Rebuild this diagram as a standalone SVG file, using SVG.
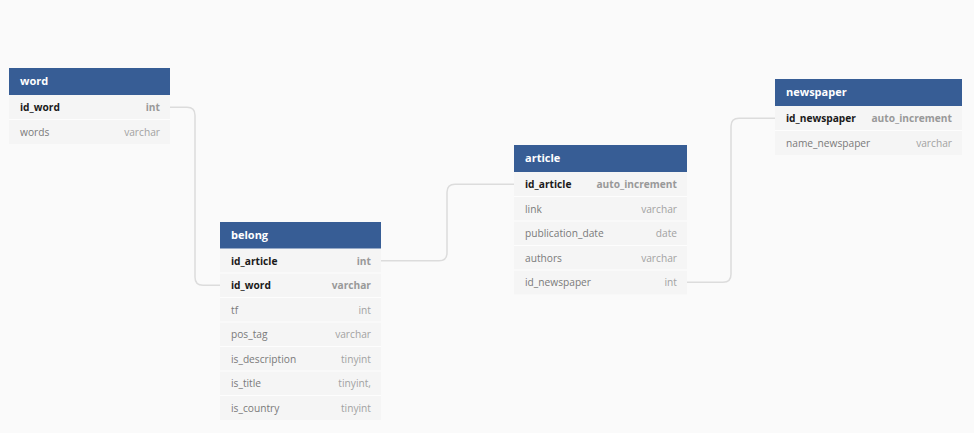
<svg xmlns="http://www.w3.org/2000/svg" width="974" height="433" viewBox="0 0 974 433">
<style>
.bg{fill:#fafafa}
.hd{fill:#375d95}
.row{fill:#f5f5f5}
.sep{stroke:#fdfdfd;stroke-width:1}
.ht{font-family:"Open Sans","Noto Sans",sans-serif;font-size:11px;font-weight:700;fill:#ffffff}
.n{font-family:"Open Sans","Noto Sans",sans-serif;font-size:10.2px;fill:#7a7a7a}
.k{font-weight:700;fill:#1a1a1a}
.t{font-family:"Open Sans","Noto Sans",sans-serif;font-size:10.2px;fill:#a2a2a2;text-anchor:end}
.tk{font-weight:700;fill:#999999}
.c{fill:none;stroke:#dcdcdc;stroke-width:1.5}
</style>
<rect class="bg" x="0" y="0" width="974" height="433"/>
<g id="connectors">
<path class="c" d="M170 107.25 H187 Q195 107.25 195 115.25 V277.25 Q195 285.25 203 285.25 H220"/>
<path class="c" d="M381 260.75 H439 Q447 260.75 447 252.75 V192.25 Q447 184.25 455 184.25 H514"/>
<path class="c" d="M687 282.25 H723 Q731 282.25 731 274.25 V126.25 Q731 118.25 739 118.25 H775"/>
</g>
<g id="word">
<rect class="row" x="9" y="95" width="161" height="49"/>
<line class="sep" x1="9" y1="119.5" x2="170" y2="119.5"/>
<rect class="hd" x="9" y="68" width="161" height="27"/>
<text class="ht" x="20" y="85.3">word</text>
<text class="n k" x="20" y="111">id_word</text><text class="t tk" x="160" y="111">int</text>
<text class="n" x="20" y="135.5">words</text><text class="t" x="160" y="135.5">varchar</text>
</g>
<g id="belong">
<rect class="row" x="220" y="248.5" width="161" height="171.5"/>
<line class="sep" x1="220" y1="273" x2="381" y2="273"/>
<line class="sep" x1="220" y1="297.5" x2="381" y2="297.5"/>
<line class="sep" x1="220" y1="322" x2="381" y2="322"/>
<line class="sep" x1="220" y1="346.5" x2="381" y2="346.5"/>
<line class="sep" x1="220" y1="371" x2="381" y2="371"/>
<line class="sep" x1="220" y1="395.5" x2="381" y2="395.5"/>
<rect class="hd" x="220" y="222" width="161" height="26.5"/>
<text class="ht" x="231" y="239.3">belong</text>
<text class="n k" x="231" y="264.5">id_article</text><text class="t tk" x="371" y="264.5">int</text>
<text class="n k" x="231" y="289">id_word</text><text class="t tk" x="371" y="289">varchar</text>
<text class="n" x="231" y="313.5">tf</text><text class="t" x="371" y="313.5">int</text>
<text class="n" x="231" y="338">pos_tag</text><text class="t" x="371" y="338">varchar</text>
<text class="n" x="231" y="362.5">is_description</text><text class="t" x="371" y="362.5">tinyint</text>
<text class="n" x="231" y="387">is_title</text><text class="t" x="371" y="387">tinyint,</text>
<text class="n" x="231" y="411.5">is_country</text><text class="t" x="371" y="411.5">tinyint</text>
</g>
<g id="article">
<rect class="row" x="514" y="172" width="173" height="122.5"/>
<line class="sep" x1="514" y1="196.5" x2="687" y2="196.5"/>
<line class="sep" x1="514" y1="221" x2="687" y2="221"/>
<line class="sep" x1="514" y1="245.5" x2="687" y2="245.5"/>
<line class="sep" x1="514" y1="270" x2="687" y2="270"/>
<rect class="hd" x="514" y="145" width="173" height="27"/>
<text class="ht" x="525" y="162.3">article</text>
<text class="n k" x="525" y="188">id_article</text><text class="t tk" x="677" y="188">auto_increment</text>
<text class="n" x="525" y="212.5">link</text><text class="t" x="677" y="212.5">varchar</text>
<text class="n" x="525" y="237">publication_date</text><text class="t" x="677" y="237">date</text>
<text class="n" x="525" y="261.5">authors</text><text class="t" x="677" y="261.5">varchar</text>
<text class="n" x="525" y="286">id_newspaper</text><text class="t" x="677" y="286">int</text>
</g>
<g id="newspaper">
<rect class="row" x="775" y="106" width="187" height="49"/>
<line class="sep" x1="775" y1="130.5" x2="962" y2="130.5"/>
<rect class="hd" x="775" y="79" width="187" height="27"/>
<text class="ht" x="786" y="96.3">newspaper</text>
<text class="n k" x="786" y="122">id_newspaper</text><text class="t tk" x="952" y="122">auto_increment</text>
<text class="n" x="786" y="146.5">name_newspaper</text><text class="t" x="952" y="146.5">varchar</text>
</g>
</svg>
